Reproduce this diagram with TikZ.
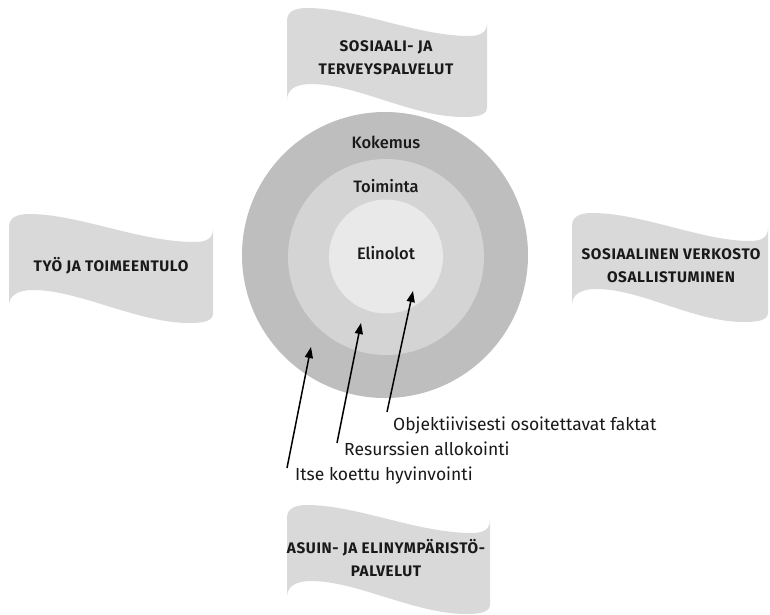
\documentclass[tikz,border=0pt]{standalone}
\usepackage{fontspec}
\setmainfont{Fira Sans}
\newfontfamily\medfont{Fira Sans Medium}
\usetikzlibrary{arrows.meta}
\definecolor{ringout}{RGB}{190,190,190}
\definecolor{ringmid}{RGB}{212,212,212}
\definecolor{ringin}{RGB}{233,233,233}
\definecolor{flagfill}{RGB}{217,217,217}
\tikzset{
  banner/.pic={
    \fill[flagfill] (0,13) .. controls (0,4) and (7,0) .. (20,0)
      .. controls (70,0) and (130,28) .. ({#1-18},28)
      .. controls ({#1-6},28) and (#1,24) .. (#1,15)
      -- (#1,99) .. controls (#1,106) and ({#1-6},109) .. ({#1-24},109)
      .. controls ({#1-75},109) and (70,76) .. (24,76)
      .. controls (8,76) and (0,82) .. (0,92) -- cycle;
  },
  flagtext/.style={font=\bfseries\addfontfeatures{LetterSpace=4}\fontsize{15.3}{23}\selectfont, align=center, text=black!90},
  ringlabel/.style={font=\medfont\fontsize{16.5}{20}\selectfont, text=black!90},
  annot/.style={font=\fontsize{17.5}{20}\selectfont, anchor=base west, inner sep=0pt, text=black!90},
  pointer/.style={line width=1.5pt, -{Triangle[length=11pt,width=8pt]}},
}
\begin{document}
\begin{tikzpicture}[x=1pt,y=-1pt]
\useasboundingbox (0,0) rectangle (770,614);
% banners
\pic at (9,214) {banner=204};
\pic at (287,8) {banner=200};
\pic at (572,213) {banner=196};
\pic at (287,505) {banner=203};
\node[flagtext] (fleft) at (111,266) {TYÖ JA TOIMEENTULO};
\node[flagtext] (ftop) at (386,58) {SOSIAALI- JA\\TERVEYSPALVELUT};
\node[flagtext] (fright) at (671,266) {SOSIAALINEN VERKOSTO\\OSALLISTUMINEN};
\node[flagtext] (fbottom) at (386,558) {ASUIN- JA ELINYMPÄRISTÖ-\\PALVELUT};
% rings
\fill[ringout] (385,255) circle (143);
\fill[ringmid] (386,257) circle (98);
\fill[ringin] (386,256.5) circle (57);
\node[ringlabel] (kok) at (386,142) {Kokemus};
\node[ringlabel] (toi) at (386,186) {Toiminta};
\node[ringlabel] (eli) at (386,253) {Elinolot};
% annotations
\node[annot] (obj) at (393,430) {Objektiivisesti osoitettavat faktat};
\node[annot] (res) at (344,455) {Resurssien allokointi};
\node[annot] (itse) at (295,480) {Itse koettu hyvinvointi};
\coordinate (t3) at (387,412);
\coordinate (t2) at (337,443);
\coordinate (t1) at (287,468);
\coordinate (h3) at (413,291);
\coordinate (h2) at (361,323);
\coordinate (h1) at (311,347);
\draw[pointer] (t3) -- (h3);
\draw[pointer] (t2) -- (h2);
\draw[pointer] (t1) -- (h1);
\end{tikzpicture}
\end{document}
